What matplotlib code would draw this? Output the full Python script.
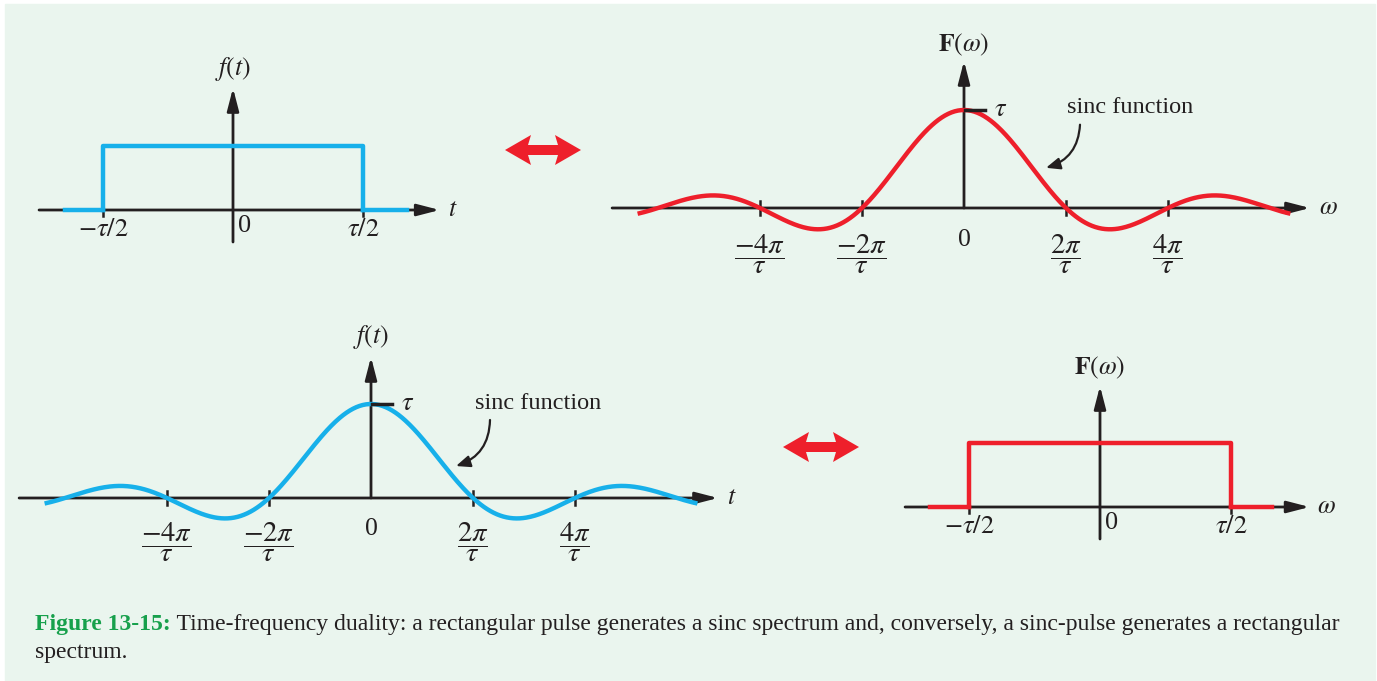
import numpy as np
import matplotlib.pyplot as plt
from matplotlib.patches import Polygon, Rectangle

# ---- data ----
tau = 1.0
pulse_t = [-tau / 2, -tau / 2, tau / 2, tau / 2]     # rectangular pulse edges
pulse_v = [0.0, 1.0, 1.0, 0.0]
sinc_span = 3.2                                        # curve runs over +/- 3.2 zero crossings
sinc_ticks = [-2, -1, 0, 1, 2]                         # multiples of 2*pi/tau
sinc_tick_labels = [r'$\dfrac{-4\pi}{\tau}$', r'$\dfrac{-2\pi}{\tau}$', '0',
                    r'$\dfrac{2\pi}{\tau}$', r'$\dfrac{4\pi}{\tau}$']
rect_ticks = [-tau / 2, 0, tau / 2]
rect_tick_labels = [r'$-\tau/2$', '0', r'$\tau/2$']

BLUE = '#17b0ea'
RED = '#ee1f2b'
INK = '#231f20'
BG = '#eaf5ee'
GREEN = '#17a04c'

plt.rcParams['mathtext.fontset'] = 'stix'
plt.rcParams['font.family'] = ['Liberation Serif', 'DejaVu Serif']

W, H = 1377, 681
fig = plt.figure(figsize=(W / 100, H / 100), dpi=100)
fig.patch.set_facecolor('white')

# overlay in pixel units for background, caption and duality arrows
ov = fig.add_axes([0, 0, 1, 1])
ov.set_xlim(0, W)
ov.set_ylim(H, 0)
ov.axis('off')
ov.add_patch(Rectangle((5, 4), 1370, 680, color=BG, zorder=0))


def panel(box, origin, scale):
    l, t, r, b = box
    ax = fig.add_axes([l / W, 1 - b / H, (r - l) / W, (b - t) / H])
    x0, y0 = origin
    sx, sy = scale
    ax.set_xlim((l - x0) / sx, (r - x0) / sx)
    ax.set_ylim((y0 - b) / sy, (y0 - t) / sy)
    ax.axis('off')
    ax.patch.set_alpha(0)
    return ax


def axes_arrows(ax, x0, x1, y0, y1):
    ap = dict(arrowstyle='-|>,head_length=0.85,head_width=0.22', lw=2.0, color=INK,
              shrinkA=0, shrinkB=0, mutation_scale=16)
    ax.annotate('', xy=(x1, 0), xytext=(x0, 0), arrowprops=ap, zorder=3)
    ax.annotate('', xy=(0, y1), xytext=(0, y0), arrowprops=ap, zorder=3)


def sinc_panel(ax, color, ylab, ylab_y, xlab, xtip, label_pos, arrow_from, arrow_to):
    k = 2 * np.pi / tau
    w = np.linspace(-sinc_span * k, sinc_span * k, 600)
    ax.plot(w, tau * np.sinc(w * tau / (2 * np.pi)), color=color, lw=3.2, zorder=4,
            solid_capstyle='butt')
    axes_arrows(ax, -3.45 * k, xtip, 0, 1.5)
    for n, lab in zip(sinc_ticks, sinc_tick_labels):
        if n != 0:
            ax.plot([n * k, n * k], [-0.07, 0.07], color=INK, lw=1.8, zorder=3)
            ax.text(n * k, -0.47, lab, ha='center', va='center', fontsize=20.5, color=INK)
        else:
            ax.text(0, -0.33, lab, ha='center', va='center', fontsize=18.5, color=INK)
    ax.plot([0.05, 1.3], [tau, tau], color=INK, lw=2.5, zorder=5)
    ax.text(1.85, tau, r'$\tau$', fontsize=19, va='center', ha='left', color=INK)
    ax.text(0, ylab_y, ylab, fontsize=18.5, ha='center', va='center', color=INK)
    ax.text(xtip + 0.55, 0, xlab, fontsize=18.5, ha='left', va='center', color=INK)
    ax.text(*label_pos, 'sinc function', fontsize=17.5, ha='center', va='center', color=INK)
    ax.annotate('', xy=arrow_to, xytext=arrow_from,
                arrowprops=dict(arrowstyle='-|>,head_length=0.6,head_width=0.25', lw=1.6,
                                color=INK, shrinkA=0, shrinkB=0, mutation_scale=14,
                                connectionstyle='arc3,rad=-0.35'), zorder=6)


def rect_panel(ax, color, ylab, ylab_y, xlab, xlo, xhi, ylo, yhi, base_lo, base_hi):
    ax.plot([base_lo, pulse_t[0]], [0, 0], color=color, lw=3.2, zorder=4)
    ax.plot([pulse_t[-1], base_hi], [0, 0], color=color, lw=3.2, zorder=4)
    ax.plot(pulse_t, pulse_v, color=color, lw=3.2, zorder=4)
    axes_arrows(ax, xlo, xhi, ylo, yhi)
    for x, lab in zip(rect_ticks, rect_tick_labels):
        if x != 0:
            ax.plot([x, x], [0, -0.1], color=INK, lw=1.8, zorder=3)
            ax.text(x, -0.32, lab, ha='center', va='center', fontsize=19, color=INK)
        else:
            ax.text(0.02, -0.25, lab, ha='left', va='center', fontsize=19, color=INK)
    ax.text(0, ylab_y, ylab, fontsize=18.5, ha='center', va='center', color=INK)
    ax.text(xhi + 0.03, 0, xlab, fontsize=18.5, ha='left', va='center', color=INK)


# top left: rectangular pulse in time
ax1 = panel((30, 40, 470, 255), (233, 210), (260, 64))
rect_panel(ax1, BLUE, r'$f(t)$', 2.2, r'$t$', -0.746, 0.795, -0.5, 1.906, -0.646, 0.669)

# top right: sinc spectrum
k_px = 102 / (2 * np.pi / tau)
ax2 = panel((620, 30, 1350, 290), (964, 208), (k_px, 98))
sinc_panel(ax2, RED, r'$\mathbf{F}(\omega)$', 1.66, r'$\omega$', 346 / k_px,
           (166 / k_px, 1.03), (116 / k_px, 0.85), (82 / k_px, 0.41))

# bottom left: sinc pulse in time
k_px3 = 102 / (2 * np.pi / tau)
ax3 = panel((30, 320, 760, 580), (371, 498), (k_px3, 94))
sinc_panel(ax3, BLUE, r'$f(t)$', 1.71, r'$t$', 347 / k_px3,
           (167 / k_px3, 1.01), (119 / k_px3, 0.83), (85 / k_px3, 0.34))

# bottom right: rectangular spectrum
ax4 = panel((890, 340, 1370, 560), (1100, 507), (262, 64))
rect_panel(ax4, RED, r'$\mathbf{F}(\omega)$', 2.17, r'$\omega$', -0.744, 0.80, -0.5, 1.89,
           -0.65, 0.658)


# duality arrows
def dual_arrow(cx, cy):
    half, shaft, head, hl = 38, 5, 15, 26
    pts = [(cx - half, cy), (cx - half + hl, cy - head), (cx - half + hl - 3, cy - shaft),
           (cx + half - hl + 3, cy - shaft), (cx + half - hl, cy - head), (cx + half, cy),
           (cx + half - hl, cy + head), (cx + half - hl + 3, cy + shaft),
           (cx - half + hl - 3, cy + shaft), (cx - half + hl, cy + head)]
    ov.add_patch(Polygon(pts, closed=True, color=RED, lw=0, zorder=2))


dual_arrow(543, 150)
dual_arrow(821, 447)

# caption
t1 = ov.text(35, 630, 'Figure 13-15:', fontsize=17, fontweight='bold', color=GREEN,
             ha='left', va='baseline')
ov.annotate(' Time-frequency duality: a rectangular pulse generates a sinc spectrum and, '
            'conversely, a sinc-pulse generates a rectangular',
            xy=(1, 0), xycoords=t1, ha='left', va='bottom', fontsize=17, color=INK)
ov.text(35, 658, 'spectrum.', fontsize=17, color=INK, ha='left', va='baseline')

fig.savefig('out.png', dpi=100, facecolor=fig.get_facecolor())
